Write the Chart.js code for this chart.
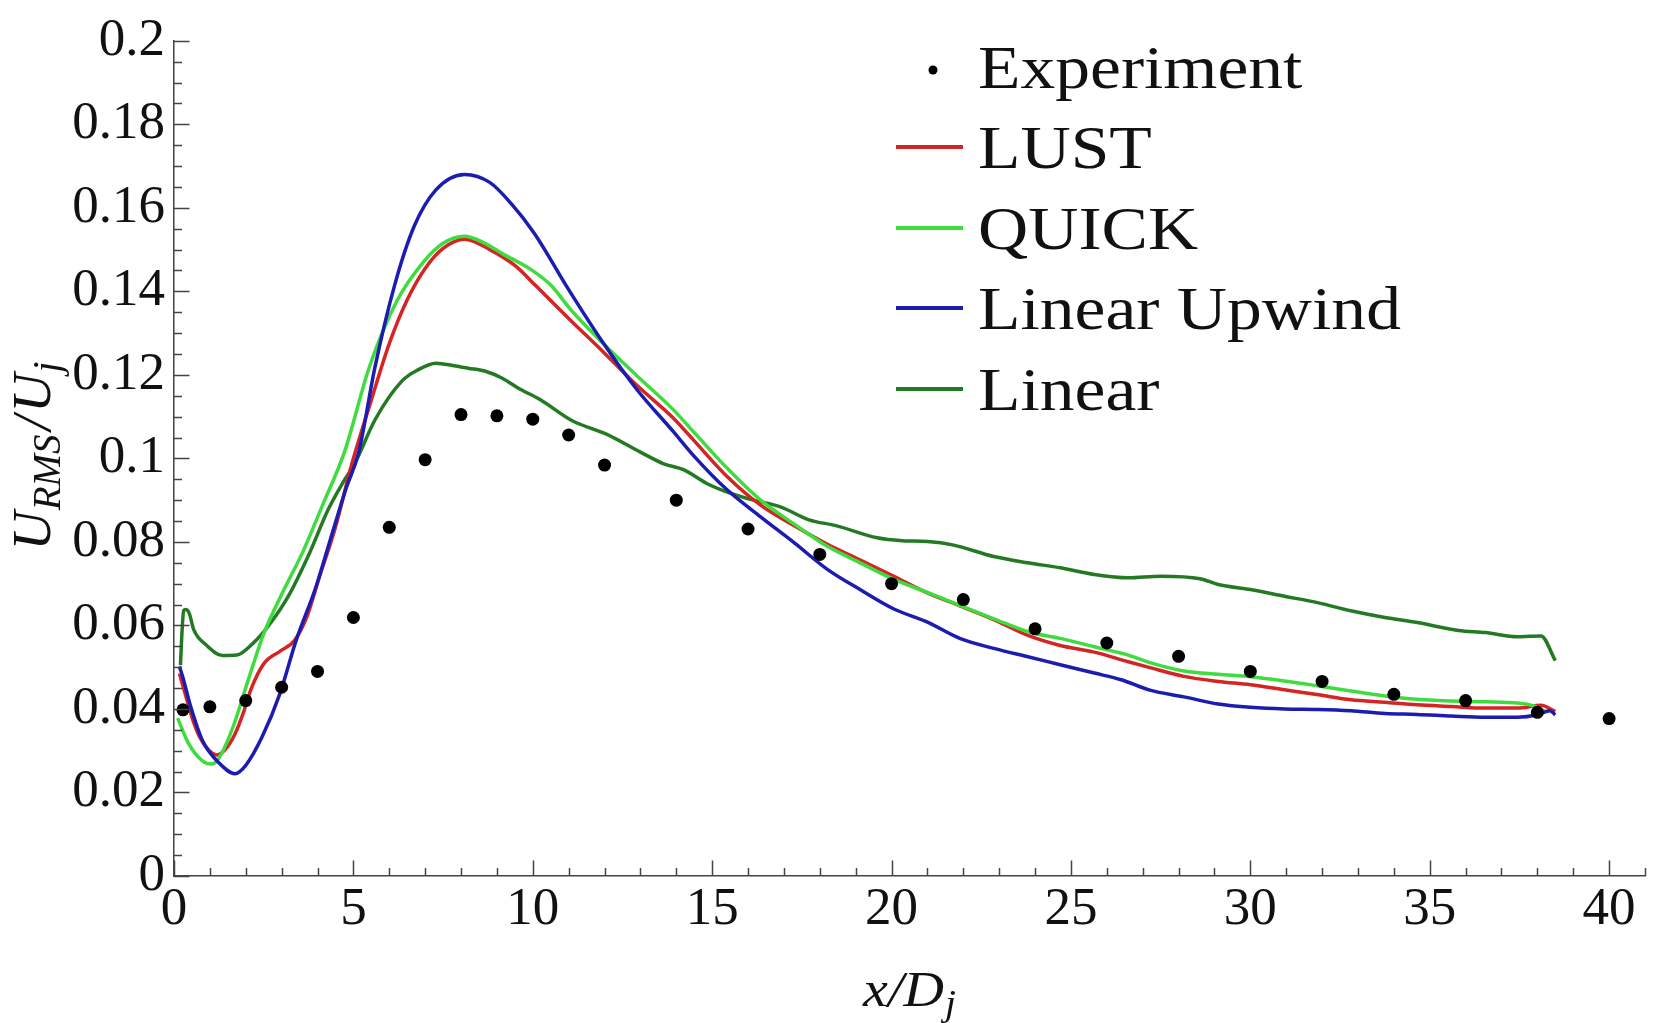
<!DOCTYPE html>
<html>
<head>
<meta charset="utf-8">
<script src="https://cdn.jsdelivr.net/npm/chart.js@4/dist/chart.umd.min.js"></script>
<style>
  html, body { margin: 0; padding: 0; background: #ffffff; }
  #c { display: block; }
</style>
</head>
<body>
<canvas id="c" width="1654" height="1023"></canvas>
<script>
// ---------------- DATA ----------------
const xTicksMajor = [0, 5, 10, 15, 20, 25, 30, 35, 40];
const yTicksMajor = [0, 0.02, 0.04, 0.06, 0.08, 0.1, 0.12, 0.14, 0.16, 0.18, 0.2];

const legendLabels = ["Experiment", "LUST", "QUICK", "Linear Upwind", "Linear"];

const expX = [0.25, 1, 2, 3, 4, 5, 6, 7, 8, 9, 10, 11, 12, 14, 16, 18, 20, 22, 24, 26, 28, 30, 32, 34, 36, 38, 40];
const expY = [0.0398, 0.0405, 0.042, 0.0452, 0.049, 0.0619, 0.0835, 0.0997, 0.1105, 0.1102, 0.1094, 0.1056, 0.0984, 0.0900, 0.0831, 0.0770, 0.0700, 0.0662, 0.0592, 0.0558, 0.0526, 0.0490, 0.0466, 0.0435, 0.0420, 0.0392, 0.0377];

const lustX = [0.15, 0.3, 0.5, 0.7, 0.95, 1.2, 1.45, 1.7, 1.95, 2.15, 2.5, 2.95, 3.35, 3.7, 4.05, 4.5, 4.95, 5.5, 6.0, 6.5, 7.0, 7.5, 8.1, 8.8, 9.5, 10.1, 11.0, 12.0, 12.9, 13.9, 14.5, 15.4, 16.35, 17.3, 18.2, 19.1, 20.05, 21.0, 21.9, 22.85, 23.8, 24.7, 25.65, 26.6, 27.2, 28.15, 29.1, 30.0, 30.95, 31.9, 32.8, 33.75, 34.65, 35.6, 36.55, 37.45, 38.1, 38.5];
const lustY = [0.0485, 0.044, 0.038, 0.0335, 0.0303, 0.029, 0.0305, 0.034, 0.0395, 0.0448, 0.0508, 0.0538, 0.0563, 0.062, 0.0715, 0.0835, 0.0985, 0.114, 0.1275, 0.138, 0.1455, 0.1503, 0.1525, 0.1500, 0.1462, 0.1412, 0.1335, 0.1252, 0.1175, 0.1098, 0.1042, 0.0958, 0.0888, 0.0838, 0.0795, 0.0758, 0.0718, 0.0678, 0.0647, 0.0614, 0.0576, 0.0552, 0.0536, 0.0513, 0.0499, 0.0478, 0.0466, 0.0458, 0.0446, 0.0434, 0.0422, 0.0416, 0.041, 0.0406, 0.0402, 0.0402, 0.0409, 0.0394];

const quickX = [0.1, 0.4, 0.8, 1.05, 1.25, 1.65, 2.1, 2.5, 3.05, 3.6, 4.15, 4.75, 5.45, 6.2, 6.95, 7.5, 8.1, 8.6, 9.2, 9.9, 10.5, 11.05, 12.0, 12.9, 13.9, 14.5, 15.4, 16.35, 17.3, 18.2, 19.1, 20.05, 21.0, 21.9, 22.85, 23.8, 24.7, 25.65, 26.6, 27.2, 28.15, 29.1, 30.0, 30.95, 31.9, 32.8, 33.75, 34.65, 35.6, 36.55, 37.45, 37.9, 38.2];
const quickY = [0.0378, 0.0318, 0.0275, 0.0268, 0.0282, 0.0358, 0.0478, 0.058, 0.0683, 0.0778, 0.089, 0.1015, 0.122, 0.1375, 0.147, 0.1515, 0.1532, 0.1518, 0.1488, 0.1455, 0.1415, 0.1357, 0.1272, 0.1198, 0.1118, 0.1062, 0.0978, 0.0900, 0.0842, 0.079, 0.0751, 0.0711, 0.0679, 0.0648, 0.0616, 0.0585, 0.0569, 0.0549, 0.0529, 0.0511, 0.0491, 0.0483, 0.0477, 0.0467, 0.0455, 0.0443, 0.0431, 0.0423, 0.0419, 0.0417, 0.0414, 0.0407, 0.0395];

const upwindX = [0.15, 0.25, 0.45, 0.8, 1.25, 1.7, 2.0, 2.45, 2.95, 3.4, 3.95, 4.4, 4.8, 5.15, 5.6, 6.15, 6.7, 7.3, 8.1, 8.8, 9.4, 10.05, 11.0, 11.95, 12.9, 13.9, 14.5, 15.4, 16.35, 17.3, 18.2, 19.1, 20.05, 21.0, 21.9, 22.85, 23.8, 24.7, 25.65, 26.4, 27.2, 28.15, 29.1, 30.0, 30.95, 31.9, 32.8, 33.75, 34.65, 35.6, 36.55, 37.45, 38.0, 38.35, 38.5];
const upwindY = [0.0502, 0.0475, 0.041, 0.0323, 0.0271, 0.0245, 0.0265, 0.0332, 0.0436, 0.0563, 0.0691, 0.0818, 0.0929, 0.1015, 0.1218, 0.1415, 0.1557, 0.1643, 0.1680, 0.1661, 0.161, 0.1538, 0.1404, 0.1278, 0.1165, 0.1066, 0.1005, 0.0926, 0.0860, 0.0797, 0.0735, 0.0687, 0.064, 0.0608, 0.0569, 0.0545, 0.0525, 0.0506, 0.0486, 0.047, 0.0445, 0.0429, 0.0412, 0.0404, 0.04, 0.0399, 0.0396, 0.0389, 0.0387, 0.0383, 0.038, 0.038, 0.0386, 0.0396, 0.0386];

const linearX = [0.18, 0.22, 0.27, 0.32, 0.42, 0.55, 0.9, 1.35, 1.75, 2.2, 2.65, 3.2, 3.75, 4.3, 4.7, 5.05, 5.6, 6.35, 6.8, 7.3, 7.8, 8.2, 8.7, 9.15, 9.6, 10.2, 11.1, 12.05, 13.0, 13.65, 14.2, 14.85, 15.4, 16.15, 16.9, 17.7, 18.45, 19.6, 20.3, 21.0, 21.7, 22.85, 23.8, 24.7, 25.65, 26.6, 27.5, 28.6, 29.1, 30.0, 30.95, 31.9, 32.8, 33.75, 34.65, 35.8, 36.55, 37.45, 38.1, 38.5];
const linearY = [0.0505, 0.058, 0.0636, 0.0638, 0.063, 0.059, 0.0553, 0.0528, 0.0529, 0.0557, 0.0601, 0.0672, 0.0768, 0.0878, 0.0941, 0.099, 0.1092, 0.1185, 0.1212, 0.1228, 0.1222, 0.1216, 0.1208, 0.1192, 0.1168, 0.1141, 0.109, 0.1058, 0.1015, 0.0987, 0.0973, 0.094, 0.092, 0.090, 0.0884, 0.0853, 0.0839, 0.081, 0.0803, 0.0801, 0.0793, 0.0765, 0.075, 0.0738, 0.0722, 0.0714, 0.0718, 0.0712, 0.0698, 0.0686, 0.067, 0.0654, 0.0635, 0.0619, 0.0607, 0.0588, 0.0583, 0.0573, 0.0575, 0.0516];

// ---------------- STYLE ----------------
const COL_LUST = '#d42424';
const COL_QUICK = '#3fdc3f';
const COL_UPWIND = '#1c1cb0';
const COL_LINEAR = '#237a23';
const AXIS_COL = '#444444';
const SERIF = '"Liberation Serif", "Times New Roman", serif';

function pts(xs, ys) { return xs.map((x, i) => ({ x: x, y: ys[i] })); }

function lineDS(label, xs, ys, color, order) {
  return {
    label: label, data: pts(xs, ys), showLine: true,
    borderColor: color, backgroundColor: color, borderWidth: 3.5,
    pointRadius: 0, cubicInterpolationMode: 'monotone', order: order,
    clip: false
  };
}

const decor = {
  id: 'decor',
  afterDatasetsDraw(chart) {
    const ctx = chart.ctx;
    const xs = chart.scales.x, ys = chart.scales.y;
    const a = chart.chartArea;
    ctx.save();
    // inward ticks
    ctx.strokeStyle = AXIS_COL;
    ctx.lineWidth = 1.5;
    ctx.beginPath();
    for (let v = 0; v <= 41; v++) {
      const px = Math.round(xs.getPixelForValue(v)) + 0.5;
      const len = (v % 5 === 0) ? 15.5 : 8;
      ctx.moveTo(px, a.bottom);
      ctx.lineTo(px, a.bottom - len);
    }
    for (let i = 0; i <= 40; i++) {
      const py = Math.round(ys.getPixelForValue(i * 0.005)) + 0.5;
      const len = (i % 4 === 0) ? 15.5 : 8;
      ctx.moveTo(a.left, py);
      ctx.lineTo(a.left + len, py);
    }
    ctx.stroke();

    // legend
    const lx0 = 896, lx1 = 963, tx = 978;
    const base = [88, 168, 249, 329, 410];
    const cols = [null, COL_LUST, COL_QUICK, COL_UPWIND, COL_LINEAR];
    for (let i = 0; i < legendLabels.length; i++) {
      if (i === 0) {
        ctx.fillStyle = '#000';
        ctx.beginPath();
        ctx.arc(933, base[0] - 18, 4.5, 0, Math.PI * 2);
        ctx.fill();
      } else {
        ctx.strokeStyle = cols[i];
        ctx.lineWidth = 4;
        ctx.beginPath();
        ctx.moveTo(lx0, base[i] - 21);
        ctx.lineTo(lx1, base[i] - 21);
        ctx.stroke();
      }
      ctx.save();
      ctx.translate(tx, base[i]);
      ctx.scale(1.14, 1);
      ctx.fillStyle = '#111';
      ctx.font = '61px ' + SERIF;
      ctx.textBaseline = 'alphabetic';
      ctx.textAlign = 'left';
      ctx.fillText(legendLabels[i], 0, 0);
      ctx.restore();
    }

    // x-axis title: x/D_j
    ctx.save();
    ctx.fillStyle = '#111';
    ctx.textBaseline = 'alphabetic';
    const mainF = 'italic 50px ' + SERIF, subF = 'italic 35px ' + SERIF;
    ctx.font = mainF;
    const w1 = ctx.measureText('x/D').width;
    ctx.font = subF;
    const w2 = ctx.measureText('j').width;
    const sx = 1.12;
    const total = (w1 + w2 + 1) * sx;
    const cx = (a.left + a.right) / 2;
    ctx.translate(cx - total / 2, 1006);
    ctx.scale(sx, 1);
    ctx.font = mainF;
    ctx.fillText('x/D', 0, 0);
    ctx.font = subF;
    ctx.fillText('j', w1 + 1, 9);
    ctx.restore();

    // y-axis title: U_RMS / U_j (rotated)
    ctx.save();
    ctx.fillStyle = '#111';
    ctx.textBaseline = 'alphabetic';
    const yMain = 'italic 54px ' + SERIF, ySub = 'italic 39px ' + SERIF;
    const parts = [
      { t: 'U', f: yMain, dy: 0, gap: 1 },
      { t: 'RMS', f: ySub, dy: 10, gap: 4 },
      { t: '/', f: yMain, dy: 0, gap: 3 },
      { t: 'U', f: yMain, dy: 0, gap: 1 },
      { t: 'j', f: ySub, dy: 10, gap: 0 }
    ];
    let tw = 0;
    parts.forEach(p => { ctx.font = p.f; p.w = ctx.measureText(p.t).width; tw += p.w + p.gap; });
    const cy = 456;
    ctx.translate(50, cy + tw / 2);
    ctx.rotate(-Math.PI / 2);
    let xx = 0;
    parts.forEach(p => { ctx.font = p.f; ctx.fillText(p.t, xx, p.dy); xx += p.w + p.gap; });
    ctx.restore();

    ctx.restore();
  }
};

const chart = new Chart(document.getElementById('c').getContext('2d'), {
  type: 'scatter',
  data: {
    datasets: [
      { label: legendLabels[0], data: pts(expX, expY), showLine: false,
        pointRadius: 6.5, pointBackgroundColor: '#000', pointBorderWidth: 0,
        backgroundColor: '#000', order: 0, clip: false },
      lineDS(legendLabels[3], upwindX, upwindY, COL_UPWIND, 1),
      lineDS(legendLabels[2], quickX, quickY, COL_QUICK, 2),
      lineDS(legendLabels[1], lustX, lustY, COL_LUST, 3),
      lineDS(legendLabels[4], linearX, linearY, COL_LINEAR, 4)
    ]
  },
  options: {
    responsive: false,
    animation: false,
    devicePixelRatio: 1,
    layout: { padding: { top: 33, right: 9, left: 0, bottom: 0 } },
    plugins: { legend: { display: false }, tooltip: { enabled: false } },
    scales: {
      x: {
        type: 'linear', min: 0, max: 41,
        afterFit: s => { s.height = 147; },
        afterBuildTicks: s => { s.ticks = xTicksMajor.map(v => ({ value: v })); },
        ticks: {
          stepSize: 5, includeBounds: false, autoSkip: false, maxRotation: 0,
          padding: 2, color: '#111',
          font: { family: SERIF, size: 53 },
          callback: v => String(v)
        },
        grid: { drawOnChartArea: false, drawTicks: false },
        border: { color: AXIS_COL, width: 1.5 }
      },
      y: {
        type: 'linear', min: 0, max: 0.2,
        afterFit: s => { s.width = 174; },
        afterBuildTicks: s => { s.ticks = yTicksMajor.map(v => ({ value: v })); },
        ticks: {
          stepSize: 0.02, includeBounds: true, autoSkip: false,
          padding: 9, color: '#111',
          font: { family: SERIF, size: 53 },
          callback: v => String(+(+v).toFixed(2))
        },
        grid: { drawOnChartArea: false, drawTicks: false },
        border: { color: AXIS_COL, width: 1.5 }
      }
    }
  },
  plugins: [decor]
});
</script>
</body>
</html>
